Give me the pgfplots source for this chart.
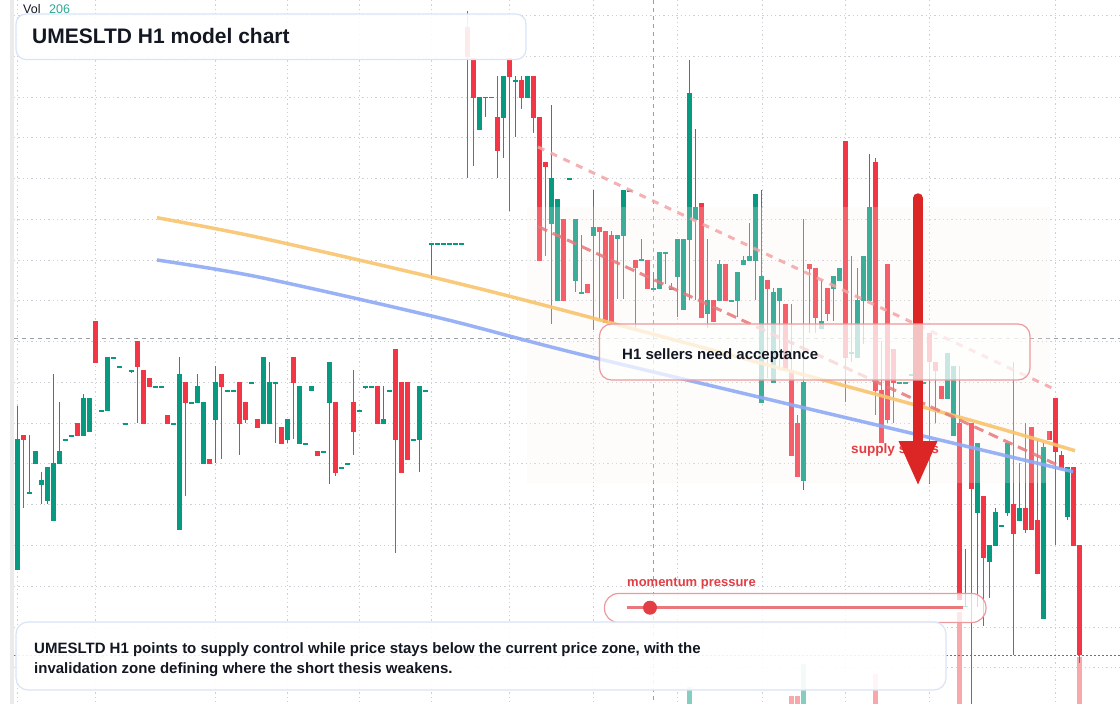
\documentclass[border=0pt]{standalone}
\usepackage{pgfplots}
\pgfplotsset{compat=1.18}
\usepackage{pgfplotstable}
\usepackage{fontspec}
\setmainfont{Liberation Sans}

\definecolor{up}{HTML}{089981}
\definecolor{dn}{HTML}{F23645}
\definecolor{volup}{HTML}{86CDC1}
\definecolor{voldn}{HTML}{F8A7AA}
\definecolor{ink}{HTML}{131722}
\definecolor{gridc}{HTML}{CDD0D6}
\definecolor{cross}{HTML}{9AA0A8}
\definecolor{orangeL}{HTML}{F9C46E}
\definecolor{blueL}{HTML}{8FAAF6}
\definecolor{dashhi}{HTML}{F4A3A6}
\definecolor{dashlo}{HTML}{E8787C}
\definecolor{arrowred}{HTML}{DC2626}
\definecolor{boxred}{HTML}{EC9A9D}
\definecolor{boxblue}{HTML}{D9E4F8}
\definecolor{labred}{HTML}{E23E44}

% candles in pixel units: k = bar index, bt/bb = body top/bottom, wt/wb = wick top/bottom
\pgfplotstableread{
k bt bb wt wb
0 439 570 406 570
2 492 493 435 493
3 451 464 451 464
4 480 485 472 504
5 467 501 467 504
6 463 521 374 521
7 451 464 402 464
8 439 440 439 440
9 435 436 435 436
11 398 436 394 436
12 398 432 398 432
14 410 411 410 411
15 357 411 357 411
16 357 358 357 358
17 366 367 366 367
18 423 424 423 424
19 370 371 370 373
23 386 387 386 387
24 386 387 386 387
26 423 424 423 424
27 374 530 357 530
29 402 403 402 403
30 386 403 374 403
31 402 464 402 464
33 382 420 366 463
35 390 391 390 391
36 390 391 390 391
39 382 383 382 383
41 357 424 357 424
42 382 424 362 424
43 382 383 382 443
45 419 440 419 443
47 386 444 386 444
48 443 444 443 444
49 386 391 386 391
51 451 452 451 452
52 362 403 362 484
54 467 468 467 468
55 463 464 463 464
57 410 411 410 411
58 386 387 386 389
59 386 387 386 387
61 419 424 386 424
62 390 391 390 391
66 439 440 439 440
67 386 440 386 472
68 390 391 390 391
69 243 244 243 279
70 243 244 243 244
71 243 244 243 244
72 243 244 243 244
73 243 244 243 244
74 243 244 243 244
77 97 130 97 130
78 97 98 97 117
79 97 98 97 98
81 76 118 76 158
83 80 81 76 137
85 76 98 76 98
89 178 224 105 324
90 199 301 199 301
92 178 179 178 179
93 219 281 219 292
94 292 293 235 293
96 227 236 190 330
100 235 239 235 299
101 190 236 190 299
102 190 191 190 191
104 259 260 239 260
106 288 289 272 289
107 252 289 252 289
108 252 253 252 284
109 288 289 283 289
110 239 277 239 317
111 239 310 239 310
112 93 240 60 300
113 207 220 129 300
115 300 314 239 328
117 264 301 260 301
119 300 301 300 301
120 272 301 272 317
121 260 265 256 265
122 256 261 223 261
123 194 261 194 300
124 276 403 190 403
126 292 383 288 383
127 288 301 288 370
131 382 481 219 490
134 321 329 280 329
136 276 289 276 321
137 268 281 268 281
139 352 353 256 362
140 300 358 268 358
141 256 301 256 344
142 207 301 154 301
147 382 383 382 383
148 382 383 382 383
149 374 375 374 375
150 382 383 382 383
151 382 383 382 383
155 353 399 353 399
156 366 436 366 436
158 606 607 549 607
160 443 513 443 607
162 545 562 545 598
163 512 546 508 546
164 525 526 525 526
165 443 513 443 516
167 508 521 463 521
171 447 619 443 619
175 467 517 467 520
}\upc

\pgfplotstableread{
k bt bb wt wb
1 435 440 435 508
10 423 436 423 436
13 321 363 321 363
20 341 367 341 423
21 370 424 370 424
22 378 387 378 387
25 415 424 415 424
28 382 403 382 496
32 459 464 459 464
34 374 387 374 459
37 382 424 382 455
38 402 420 402 423
40 419 428 419 428
44 427 444 427 444
46 357 383 357 439
50 451 456 451 456
53 402 473 402 476
56 402 432 370 455
60 386 424 386 424
63 349 440 349 553
64 382 473 382 473
65 382 460 382 460
75 27 57 11 178
76 58 98 58 166
80 117 151 76 178
82 58 77 58 211
84 80 98 76 109
86 76 118 76 133
87 117 261 117 261
88 162 167 162 256
91 219 301 219 301
95 284 293 284 293
97 227 232 227 320
98 231 323 231 323
99 235 322 231 322
103 260 268 260 330
105 260 289 260 289
114 203 318 203 318
116 300 322 300 322
118 264 301 264 301
125 280 289 280 378
128 304 370 304 370
129 370 456 304 456
130 423 477 415 477
132 264 269 264 333
133 268 318 268 333
135 288 314 288 321
138 141 358 141 402
143 162 391 158 415
144 390 443 341 443
145 264 420 264 423
146 349 383 349 423
152 333 362 333 484
153 362 371 362 423
154 386 399 386 399
157 423 600 366 600
159 423 489 423 704
161 496 558 496 626
166 504 534 362 655
168 508 530 423 533
169 427 530 427 530
170 520 574 439 574
172 431 440 431 440
173 398 452 398 545
174 455 468 451 468
176 467 546 467 546
177 545 655 545 663
}\dnc

\pgfplotstableread{
k top
112 687
131 664
}\volu

\pgfplotstableread{
k top
129 696
130 696
143 674
157 612
177 657
}\vold

\begin{document}
\begin{tikzpicture}
\begin{axis}[
  scale only axis, width=1120pt, height=704pt,
  xmin=0, xmax=1120, ymin=0, ymax=704, y dir=reverse,
  hide axis, clip=true,
  candle/.style={draw=none, no markers, forget plot,
    error bars/.cd, y dir=both, y explicit, error mark=none},
]
\fill[white] (axis cs:0,0) rectangle (axis cs:1120,704);
\fill[black!8] (axis cs:10,0) rectangle (axis cs:14,704);

% grid
\pgfplotsinvokeforeach{15,56,97,137.5,178.3,219.3,260,300.7,341.5,382.3,423.3,463.7,504.5,545.3,586,627,667.5}{
  \draw[gridc, line width=1pt, dash pattern=on 1.3pt off 3pt] (axis cs:14,#1) -- (axis cs:1120,#1);}
\pgfplotsinvokeforeach{17.3,95.7,215.3,287.3,359.3,431.3,509.3,593.3,677.5,762,845.5,929.4,1055.5}{
  \draw[gridc, line width=1pt, dash pattern=on 1.3pt off 3pt] (axis cs:#1,0) -- (axis cs:#1,704);}
\draw[cross, line width=1pt, dash pattern=on 4pt off 4pt] (axis cs:653.3,0) -- (axis cs:653.3,704);
\draw[cross, line width=1pt, dash pattern=on 4pt off 4pt] (axis cs:14,338.5) -- (axis cs:1120,338.5);

% volume
\addplot[candle, error bar style={line width=4.7pt, draw=volup}]
  table[x expr=17.3+6*\thisrow{k}, y expr=(\thisrow{top}+704)/2, y error expr=(704-\thisrow{top})/2] {\volu};
\addplot[candle, error bar style={line width=4.7pt, draw=voldn}]
  table[x expr=17.3+6*\thisrow{k}, y expr=(\thisrow{top}+704)/2, y error expr=(704-\thisrow{top})/2] {\vold};

% wicks
\addplot[candle, error bar style={line width=1pt, draw=up}]
  table[x expr=17.3+6*\thisrow{k}, y expr=(\thisrow{wt}+\thisrow{wb})/2, y error expr=(\thisrow{wb}-\thisrow{wt})/2] {\upc};
\addplot[candle, error bar style={line width=1pt, draw=dn}]
  table[x expr=17.3+6*\thisrow{k}, y expr=(\thisrow{wt}+\thisrow{wb})/2, y error expr=(\thisrow{wb}-\thisrow{wt})/2] {\dnc};
% bodies
\addplot[candle, error bar style={line width=4.7pt, draw=up}]
  table[x expr=17.3+6*\thisrow{k}, y expr=(\thisrow{bt}+\thisrow{bb})/2, y error expr={max((\thisrow{bb}-\thisrow{bt})/2,0.65)}] {\upc};
\addplot[candle, error bar style={line width=4.7pt, draw=dn}]
  table[x expr=17.3+6*\thisrow{k}, y expr=(\thisrow{bt}+\thisrow{bb})/2, y error expr={max((\thisrow{bb}-\thisrow{bt})/2,0.65)}] {\dnc};

% current price line
\draw[dn, line width=1pt, dash pattern=on 1.5pt off 2.5pt] (axis cs:14,655.5) -- (axis cs:1120,655.5);

% supply zone shade
\fill[fill={rgb,255:red,252;green,243;blue,235}, fill opacity=0.22] (axis cs:527,207) rectangle (axis cs:1050,483);

% trend lines
\addplot[smooth, orangeL, line width=3.5pt, opacity=0.9] coordinates {
  (157,217.7) (260,237.7) (440,279) (590,317.3) (940,411.7) (1075,450.7)};
\addplot[smooth, blueL, line width=3.5pt, opacity=0.9] coordinates {
  (157,260) (260,277.3) (440,318) (590,356.7) (940,440) (1073,471.7)};
\addplot[dashhi, line width=3pt, opacity=0.85, dash pattern=on 7pt off 7pt] coordinates {
  (538,147) (1052,388)};
\addplot[dashlo, line width=3pt, opacity=0.85, dash pattern=on 10pt off 6pt] coordinates {
  (538,226.5) (1062,467)};

% arrow shaft
\draw[arrowred, line width=9.5pt, line cap=round] (axis cs:918,198) -- (axis cs:918,445);

% callout
\draw[boxred, line width=1.2pt, fill=white, fill opacity=0.72, rounded corners=12pt]
  (axis cs:599.5,324) rectangle (axis cs:1030,380);
\node[anchor=base west, inner sep=0, text=ink, font=\fontsize{15}{18}\selectfont\bfseries]
  at (axis cs:622,359.5) {H1 sellers need acceptance};

% supply label and arrow head
\node[anchor=base west, inner sep=0, text=labred, font=\fontsize{13.6}{16}\selectfont\bfseries]
  at (axis cs:851,453) {supply stress};
\fill[arrowred] (axis cs:898.5,441) -- (axis cs:937.5,441) -- (axis cs:918,484.5) -- cycle;

% momentum gauge
\node[anchor=base west, inner sep=0, text=labred, font=\fontsize{13}{16}\selectfont\bfseries]
  at (axis cs:627,586.7) {momentum pressure};
\draw[boxred, line width=1.2pt, fill=white, fill opacity=0.75, rounded corners=14pt]
  (axis cs:604.5,593.5) rectangle (axis cs:986,622.5);
\draw[dashlo, line width=2.5pt] (axis cs:627,607.7) -- (axis cs:963,607.7);
\fill[labred] (axis cs:650,607.7) circle[radius=7pt];

% bottom note
\draw[boxblue, line width=1.2pt, fill=white, fill opacity=0.9, rounded corners=12pt]
  (axis cs:16,622) rectangle (axis cs:946,690);
\node[anchor=base west, inner sep=0, text=ink, font=\fontsize{15}{18}\selectfont\bfseries]
  at (axis cs:34,653.5) {UMESLTD H1 points to supply control while price stays below the current price zone, with the};
\node[anchor=base west, inner sep=0, text=ink, font=\fontsize{15}{18}\selectfont\bfseries]
  at (axis cs:34,673.5) {invalidation zone defining where the short thesis weakens.};

% title
\draw[boxblue, line width=1.2pt, fill=white, fill opacity=0.9, rounded corners=10pt]
  (axis cs:16,14) rectangle (axis cs:526,59.5);
\node[anchor=base west, inner sep=0, text=ink, font=\fontsize{21}{25}\selectfont\bfseries]
  at (axis cs:32,43.5) {UMESLTD H1 model chart};
\node[anchor=base west, inner sep=0, text=ink, font=\fontsize{12.5}{15}\selectfont]
  at (axis cs:23,13) {Vol};
\node[anchor=base west, inner sep=0, text=up!85!white, font=\fontsize{12.5}{15}\selectfont]
  at (axis cs:49,13) {206};
\end{axis}
\pgfresetboundingbox
\path (current axis.south west) rectangle (current axis.north east);
\end{tikzpicture}
\end{document}
